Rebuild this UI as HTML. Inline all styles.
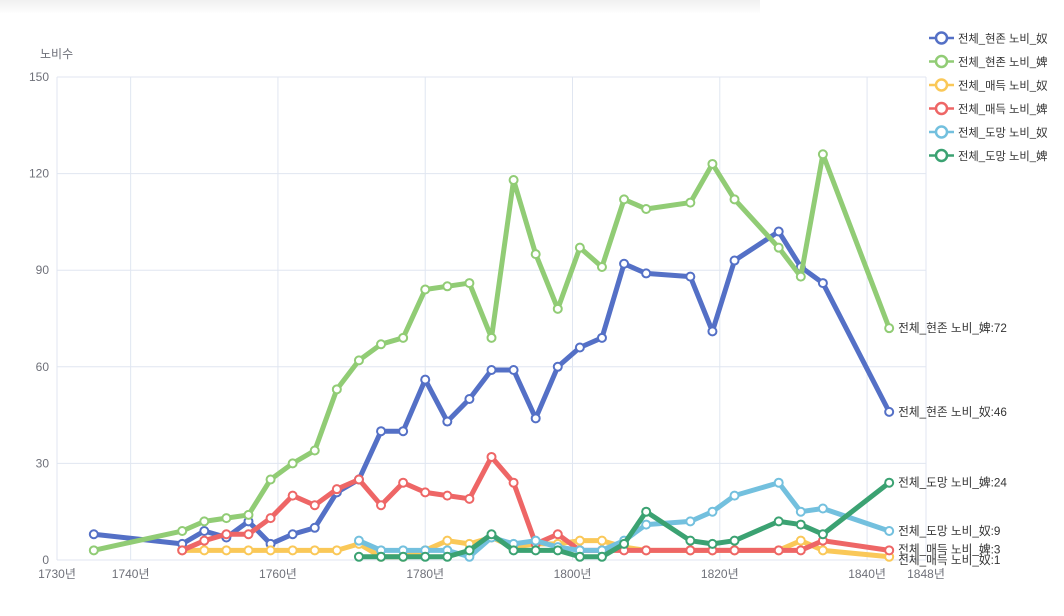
<!DOCTYPE html>
<html><head><meta charset="utf-8"><style>
body{margin:0;background:#fff;width:1064px;height:616px;overflow:hidden;font-family:"Liberation Sans","Noto Sans CJK KR",sans-serif;}
#top{position:absolute;left:0;top:0;width:760px;height:14px;background:linear-gradient(#f0f0f0,#fff);}
</style></head><body>
<div id="top"></div>
<svg id="c" width="1064" height="616" style="position:absolute;left:0;top:0"></svg>
<script>
const years=[1735,1747,1750,1753,1756,1759,1762,1765,1768,1771,1774,1777,1780,1783,1786,1789,1792,1795,1798,1801,1804,1807,1810,1816,1819,1822,1828,1831,1834,1843];
const seriesNames=["전체_현존 노비_奴","전체_현존 노비_婢","전체_매득 노비_奴","전체_매득 노비_婢","전체_도망 노비_奴","전체_도망 노비_婢"];
const colors=["#5470c6","#91cc75","#fac858","#ee6666","#73c0de","#3ba272"];
const s0=[8,5,9,7,12,5,8,10,21,25,40,40,56,43,50,59,59,44,60,66,69,92,89,88,71,93,102,91,86,46];
const s1=[3,9,12,13,14,25,30,34,53,62,67,69,84,85,86,69,118,95,78,97,91,112,109,111,123,112,97,88,126,72];
const s2=[null,3,3,3,3,3,3,3,3,5,1,1,3,6,5,7,4,5,5,6,6,4,3,3,3,3,3,6,3,1];
const s3=[null,3,6,8,8,13,20,17,22,25,17,24,21,20,19,32,24,5,8,3,3,3,3,3,3,3,3,3,6,3];
const s4=[null,null,null,null,null,null,null,null,null,6,3,3,3,3,1,7,5,6,4,3,3,6,11,12,15,20,24,15,16,9];
const s5=[null,null,null,null,null,null,null,null,null,1,1,1,1,1,3,8,3,3,3,1,1,5,15,6,5,6,12,11,8,24];
const allSeries=[s0,s1,s2,s3,s4,s5];
const xTicks=[1740,1760,1780,1800,1820,1840];
const yTicks=[0,30,60,90,120,150];
const X0=57,X1=926,Y0=560,Y1=77,XMIN=1730,XMAX=1848,YMAX=150;
const xs=v=>X0+(v-XMIN)/(XMAX-XMIN)*(X1-X0);
const ys=v=>Y0-v/YMAX*(Y0-Y1);
const svg=document.getElementById('c');const NS='http://www.w3.org/2000/svg';
function mk(t,a,p){const e=document.createElementNS(NS,t);for(const k in a)e.setAttribute(k,a[k]);(p||svg).appendChild(e);return e;}
const F='"Liberation Sans","Noto Sans CJK KR",sans-serif';
yTicks.forEach(v=>{const l=mk('line',{x1:X0,x2:X1,y1:ys(v),y2:ys(v),stroke:'#e0e6f1'});

const t=mk('text',{x:X0-8,y:ys(v)+4,'text-anchor':'end','font-size':12,fill:'#6e7079','font-family':F});t.textContent=v;
});
[XMIN].concat(xTicks,[XMAX]).forEach(v=>{const l=mk('line',{x1:xs(v),x2:xs(v),y1:Y1,y2:Y0,stroke:'#e0e6f1'});

const t=mk('text',{x:xs(v),y:Y0+18,'text-anchor':'middle','font-size':12,fill:'#6e7079','font-family':F});t.textContent=v+'년';
});
const yt=mk('text',{x:40,y:58,'font-size':12,fill:'#6e7079','font-family':F});yt.textContent='노비수';

allSeries.forEach((s,i)=>{const g=mk('g',{});
let d='',pts=[];s.forEach((v,j)=>{if(v===null)return;const x=xs(years[j]),y=ys(v);d+=(d?'L':'M')+x+','+y;pts.push([x,y,v]);});
const p=mk('path',{d:d,fill:'none',stroke:colors[i],'stroke-width':5,'stroke-linejoin':'round'},g);

pts.forEach(q=>{const c=mk('circle',{cx:q[0],cy:q[1],r:4,fill:'#fff',stroke:colors[i],'stroke-width':2},g);
});
const last=pts[pts.length-1];
const lab=mk('text',{x:last[0]+9,y:last[1]+4+(i==2?3:0)+(i==3?-1:0),'font-size':11.7,fill:'#333','font-family':F},g);lab.textContent=seriesNames[i]+':'+last[2];
});
seriesNames.forEach((n,i)=>{const y=38+i*23.5;const g=mk('g',{});
mk('line',{x1:929,x2:954,y1:y,y2:y,stroke:colors[i],'stroke-width':2.5},g);
mk('circle',{cx:941.5,cy:y,r:5.5,fill:'#fff',stroke:colors[i],'stroke-width':2.5},g);
const t=mk('text',{x:958,y:y+4.5,'font-size':11.3,fill:'#333','font-family':F},g);t.textContent=n;});
</script></body></html>
